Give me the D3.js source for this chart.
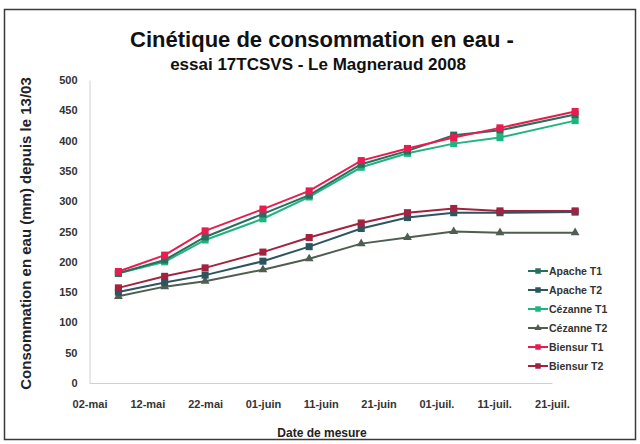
<!DOCTYPE html>
<html>
<head>
<meta charset="utf-8">
<script src="https://cdn.jsdelivr.net/npm/d3@7"></script>
<style>
  body { margin: 0; background: #fff; }
  svg { display: block; font-family: "Liberation Sans", Arial, sans-serif; }
</style>
</head>
<body>
<svg id="chart"></svg>
<script>
// dates de mesure
const dates = ["2008-05-07", "2008-05-15", "2008-05-22", "2008-06-01", "2008-06-09",
               "2008-06-18", "2008-06-26", "2008-07-04", "2008-07-12", "2008-07-25"];

const seriesNames = ["Apache T1", "Apache T2", "Cézanne T1", "Cézanne T2", "Biensur T1", "Biensur T2"];

const apacheT1   = [181, 203, 241, 279, 310, 361, 383, 409, 417, 443];
const apacheT2   = [150, 166, 178, 201, 225, 255, 273, 281, 281, 282];
const cezanneT1  = [181, 200, 236, 271, 307, 356, 379, 395, 405, 433];
const cezanneT2  = [143, 159, 168, 187, 205, 230, 240, 250, 248, 248];
const biensurT1  = [184, 211, 251, 287, 317, 367, 387, 405, 421, 448];
const biensurT2  = [157, 176, 190, 216, 240, 264, 281, 288, 284, 284];

const tickDates  = ["2008-05-02", "2008-05-12", "2008-05-22", "2008-06-01", "2008-06-11",
                    "2008-06-21", "2008-07-01", "2008-07-11", "2008-07-21"];
const tickLabels = ["02-mai", "12-mai", "22-mai", "01-juin", "11-juin",
                    "21-juin", "01-juil.", "11-juil.", "21-juil."];
const yTicks = [0, 50, 100, 150, 200, 250, 300, 350, 400, 450, 500];

let width = 640
let height = 444
let marginTop = 80 // haut de la zone de tracé
let marginLeft = 89.5
let plotRight = 552
let plotBottom = 383

const colors = ["#24705c", "#2c5560", "#1fb47e", "#4e5e50", "#e91c50", "#a2223f"];
const symbols = [d3.symbolSquare, d3.symbolSquare, d3.symbolSquare, d3.symbolTriangle, d3.symbolSquare, d3.symbolSquare];

const parse = d3.utcParse("%Y-%m-%d");
const X = dates.map(parse);
const values = [apacheT1, apacheT2, cezanneT1, cezanneT2, biensurT1, biensurT2];

const xScale = d3.scaleUtc([parse(tickDates[0]), parse(tickDates[tickDates.length - 1])], [marginLeft, plotRight]);
const yScale = d3.scaleLinear([0, 500], [plotBottom, marginTop]);

const svg = d3.select("#chart")
    .attr("width", width)
    .attr("height", height)
    .attr("viewBox", [0, 0, width, height]);

// cadre du graphique
svg.append("rect")
    .attr("x", 4.5).attr("y", 9.5)
    .attr("width", 631).attr("height", 430)
    .attr("fill", "#fff")
    .attr("stroke", "#3a3a3a")
    .attr("stroke-width", 1.5);

// axes
const xAxis = d3.axisBottom(xScale)
    .tickValues(tickDates.map(parse))
    .tickFormat((d, i) => tickLabels[i])
    .tickSize(0).tickPadding(17);
const yAxis = d3.axisLeft(yScale)
    .tickValues(yTicks)
    .tickSize(0).tickPadding(12);

svg.append("g")
    .attr("transform", `translate(0,${plotBottom})`)
    .call(xAxis)
    .call(g => g.select(".domain").attr("stroke", "#d0d0d0"))
    .call(g => g.selectAll("text")
        .attr("fill", "#333")
        .attr("font-size", 11)
        .attr("font-weight", "bold")
        .attr("font-family", "inherit"));

svg.append("g")
    .attr("transform", `translate(${marginLeft},0)`)
    .call(yAxis)
    .call(g => g.select(".domain").attr("stroke", "#d0d0d0"))
    .call(g => g.selectAll("text")
        .attr("fill", "#333")
        .attr("font-size", 11)
        .attr("font-weight", "bold")
        .attr("font-family", "inherit"));

// lignes et marqueurs
const line = d3.line()
    .x((d, i) => xScale(X[i]))
    .y(d => yScale(d));

const order = [3, 1, 5, 2, 0, 4];
order.forEach(k => {
    const g = svg.append("g");
    g.append("path")
        .attr("d", line(values[k]))
        .attr("fill", "none")
        .attr("stroke", colors[k])
        .attr("stroke-width", 2);
    g.selectAll("path.m")
        .data(values[k])
        .join("path")
        .attr("class", "m")
        .attr("transform", (d, i) => `translate(${xScale(X[i])},${yScale(d)})`)
        .attr("d", d3.symbol(symbols[k], k === 3 ? 34 : 50))
        .attr("fill", colors[k]);
});

// légende
const legend = svg.append("g").attr("transform", "translate(528,271)");
seriesNames.forEach((name, k) => {
    const row = legend.append("g").attr("transform", `translate(0,${k * 19})`);
    row.append("line")
        .attr("x1", 0).attr("x2", 20)
        .attr("stroke", colors[k]).attr("stroke-width", 2);
    row.append("path")
        .attr("transform", "translate(10,0)")
        .attr("d", d3.symbol(symbols[k], k === 3 ? 22 : 30))
        .attr("fill", colors[k]);
    row.append("text")
        .attr("x", 21).attr("y", 3.5)
        .attr("font-size", 10.5)
        .attr("font-weight", "bold")
        .attr("fill", "#333")
        .text(name);
});

// titres
svg.append("text")
    .attr("x", 322).attr("y", 47)
    .attr("text-anchor", "middle")
    .attr("font-size", 22)
    .attr("font-weight", "bold")
    .attr("fill", "#111")
    .text("Cinétique de consommation en eau -");

svg.append("text")
    .attr("x", 318).attr("y", 70)
    .attr("text-anchor", "middle")
    .attr("font-size", 17)
    .attr("font-weight", "bold")
    .attr("fill", "#111")
    .text("essai 17TCSVS - Le Magneraud 2008");

svg.append("text")
    .attr("transform", `translate(31,${(marginTop + plotBottom) / 2 + 2}) rotate(-90)`)
    .attr("text-anchor", "middle")
    .attr("font-size", 15)
    .attr("font-weight", "bold")
    .attr("fill", "#222")
    .text("Consommation en eau (mm) depuis le 13/03");

svg.append("text")
    .attr("x", 322).attr("y", 437)
    .attr("text-anchor", "middle")
    .attr("font-size", 12)
    .attr("font-weight", "bold")
    .attr("fill", "#222")
    .text("Date de mesure");
</script>
</body>
</html>
